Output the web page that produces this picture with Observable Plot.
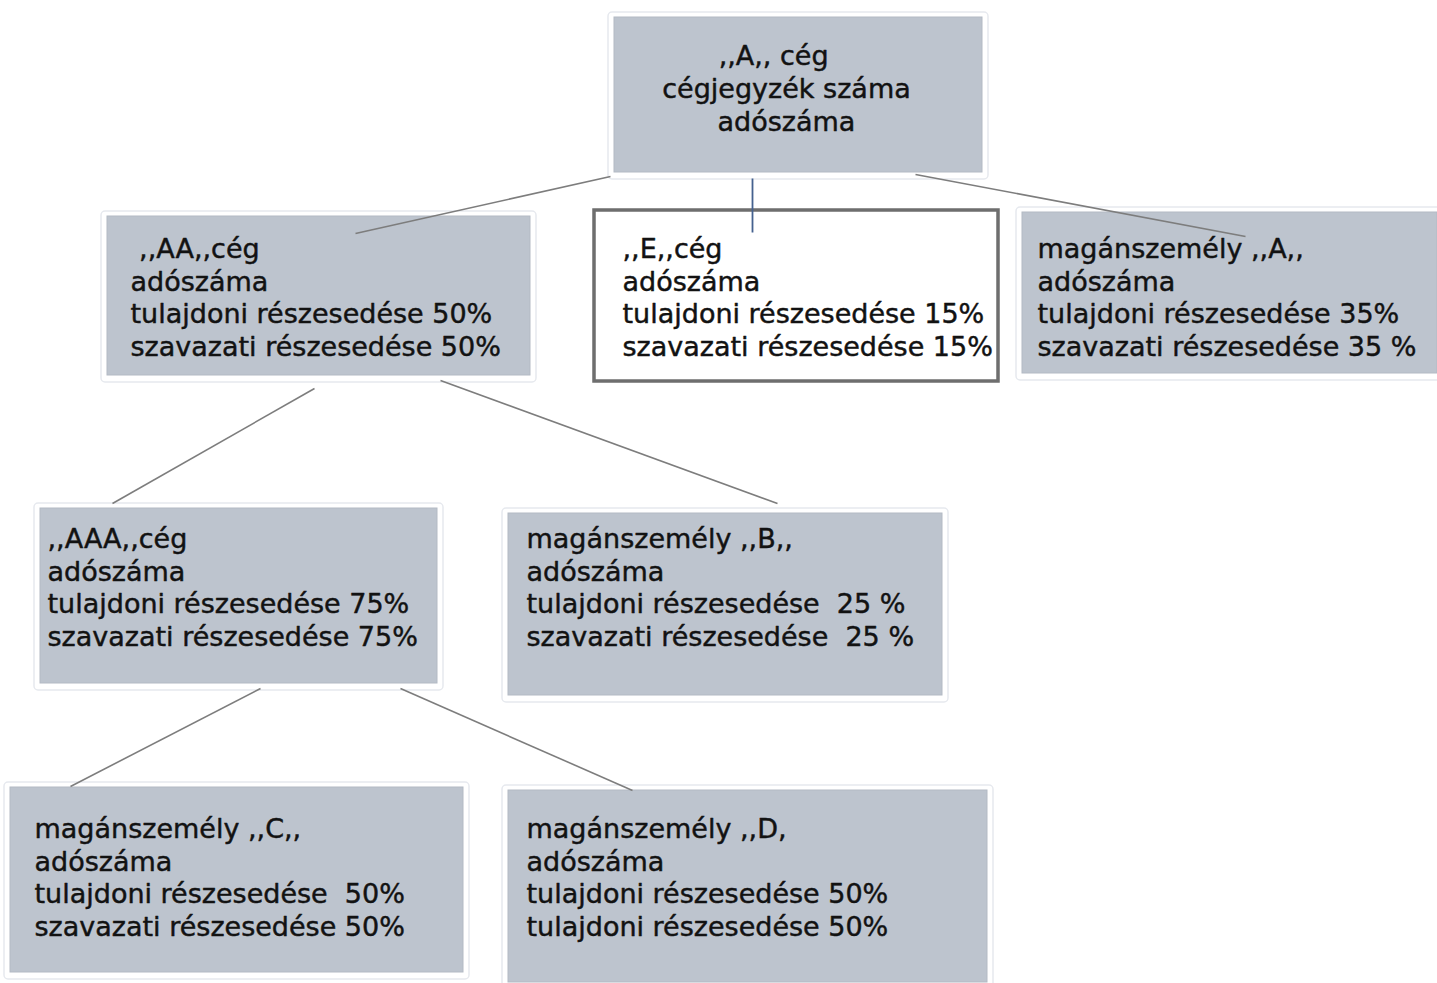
<!DOCTYPE html>
<html>
<head>
<meta charset="utf-8">
<script src="https://cdn.jsdelivr.net/npm/d3@7"></script>
<script src="https://cdn.jsdelivr.net/npm/@observablehq/plot@0.6"></script>
<style>
  html, body { margin: 0; padding: 0; background: #ffffff; overflow: hidden; }
  #chart svg { display: block; }
</style>
</head>
<body>
<div id="chart"></div>
<script>
// ---- Data ----
const nodeIds = ["A", "AA", "E", "mA", "AAA", "B", "C", "D"];
const nodeLabels = [
  ",,A,, cég\u00a0\u00a0\u00a0\ncégjegyzék száma\nadószáma",
  "\u00a0,,AA,,cég\nadószáma\ntulajdoni részesedése 50%\nszavazati részesedése 50%",
  ",,E,,cég\nadószáma\ntulajdoni részesedése 15%\nszavazati részesedése 15%",
  "magánszemély ,,A,,\nadószáma\ntulajdoni részesedése 35%\nszavazati részesedése 35 %",
  ",,AAA,,cég\nadószáma\ntulajdoni részesedése 75%\nszavazati részesedése 75%",
  "magánszemély ,,B,,\nadószáma\ntulajdoni részesedése  25 %\nszavazati részesedése  25 %",
  "magánszemély ,,C,,\nadószáma\ntulajdoni részesedése  50%\nszavazati részesedése 50%",
  "magánszemély ,,D,\nadószáma\ntulajdoni részesedése 50%\ntulajdoni részesedése 50%"
];
// box extents (diagram pixel units)
const boxX1 = [614, 107, 594, 1022, 40, 508, 10, 508];
const boxX2 = [982, 530, 998, 1437, 437, 942, 463, 987];
const boxY1 = [17, 216, 210, 212, 508, 513, 787, 790];
const boxY2 = [172, 375, 381, 373, 683, 695, 972, 982];
// text anchor positions
const textX = [786, 130, 622, 1037, 47, 526, 34, 526];
const textY = [87, 296, 296, 296, 586, 586, 876, 876];
const boxStyle = ["gray", "gray", "white", "gray", "gray", "gray", "gray", "gray"];

// connectors: from parent to child
const linkFrom = ["A", "A", "A", "AA", "AA", "AAA", "AAA"];
const linkTo = ["AA", "E", "mA", "AAA", "B", "C", "D"];
const linkX1 = [610, 752, 915, 314, 440, 260, 400];
const linkY1 = [176, 178, 174, 388, 380, 688, 688];
const linkX2 = [355, 752, 1245, 112, 777, 70, 632];
const linkY2 = [233, 232, 236, 503, 503, 786, 790];

// ---- Build tables ----
const nodes = nodeIds.map((id, i) => ({
  id, label: nodeLabels[i],
  x1: boxX1[i], x2: boxX2[i], y1: boxY1[i], y2: boxY2[i],
  tx: textX[i], ty: textY[i], style: boxStyle[i]
}));
const links = linkFrom.map((f, i) => ({
  from: f, to: linkTo[i],
  x1: linkX1[i], y1: linkY1[i], x2: linkX2[i], y2: linkY2[i]
}));

const W = 1437, H = 983;
const grayNodes = nodes.filter(d => d.style === "gray");
const whiteNodes = nodes.filter(d => d.style === "white");
const textStyle = {
  lineAnchor: "middle", lineHeight: 1.21,
  fontSize: 27, fill: "#121212", stroke: "#121212", strokeWidth: 0.45
};

const chart = Plot.plot({
  width: W,
  height: H,
  margin: 0,
  x: {domain: [0, W], range: [0, W], axis: null},
  y: {domain: [0, H], range: [0, H], axis: null},
  style: {background: "#ffffff", fontFamily: "'DejaVu Sans', Verdana, sans-serif"},
  marks: [
    // soft outer frame around shaded boxes
    Plot.rect(grayNodes, {
      x1: d => d.x1 - 6, x2: d => d.x2 + 6, y1: d => d.y1 - 5, y2: d => d.y2 + 7,
      fill: "#ffffff", stroke: "#e6e9ee", strokeWidth: 1.5, rx: 4
    }),
    Plot.rect(grayNodes, {
      x1: "x1", x2: "x2", y1: "y1", y2: "y2",
      fill: "#bdc4ce", stroke: "#b3bac4", strokeWidth: 1
    }),
    Plot.rect(whiteNodes, {
      x1: "x1", x2: "x2", y1: "y1", y2: "y2",
      fill: "#ffffff", stroke: "#6e6e6e", strokeWidth: 3.5
    }),
    Plot.link(links.filter(d => d.to !== "E"), {
      x1: "x1", y1: "y1", x2: "x2", y2: "y2",
      stroke: "#7d7d7d", strokeWidth: 1.6
    }),
    Plot.link(links.filter(d => d.to === "E"), {
      x1: "x1", y1: "y1", x2: "x2", y2: "y2",
      stroke: "#45618f", strokeWidth: 1.8
    }),
    Plot.text(nodes.filter(d => d.id === "A"), {
      x: "tx", y: "ty", text: "label", textAnchor: "middle", ...textStyle
    }),
    Plot.text(nodes.filter(d => d.id !== "A"), {
      x: "tx", y: "ty", text: "label", textAnchor: "start", ...textStyle
    })
  ]
});

document.getElementById("chart").appendChild(chart);
</script>
</body>
</html>
